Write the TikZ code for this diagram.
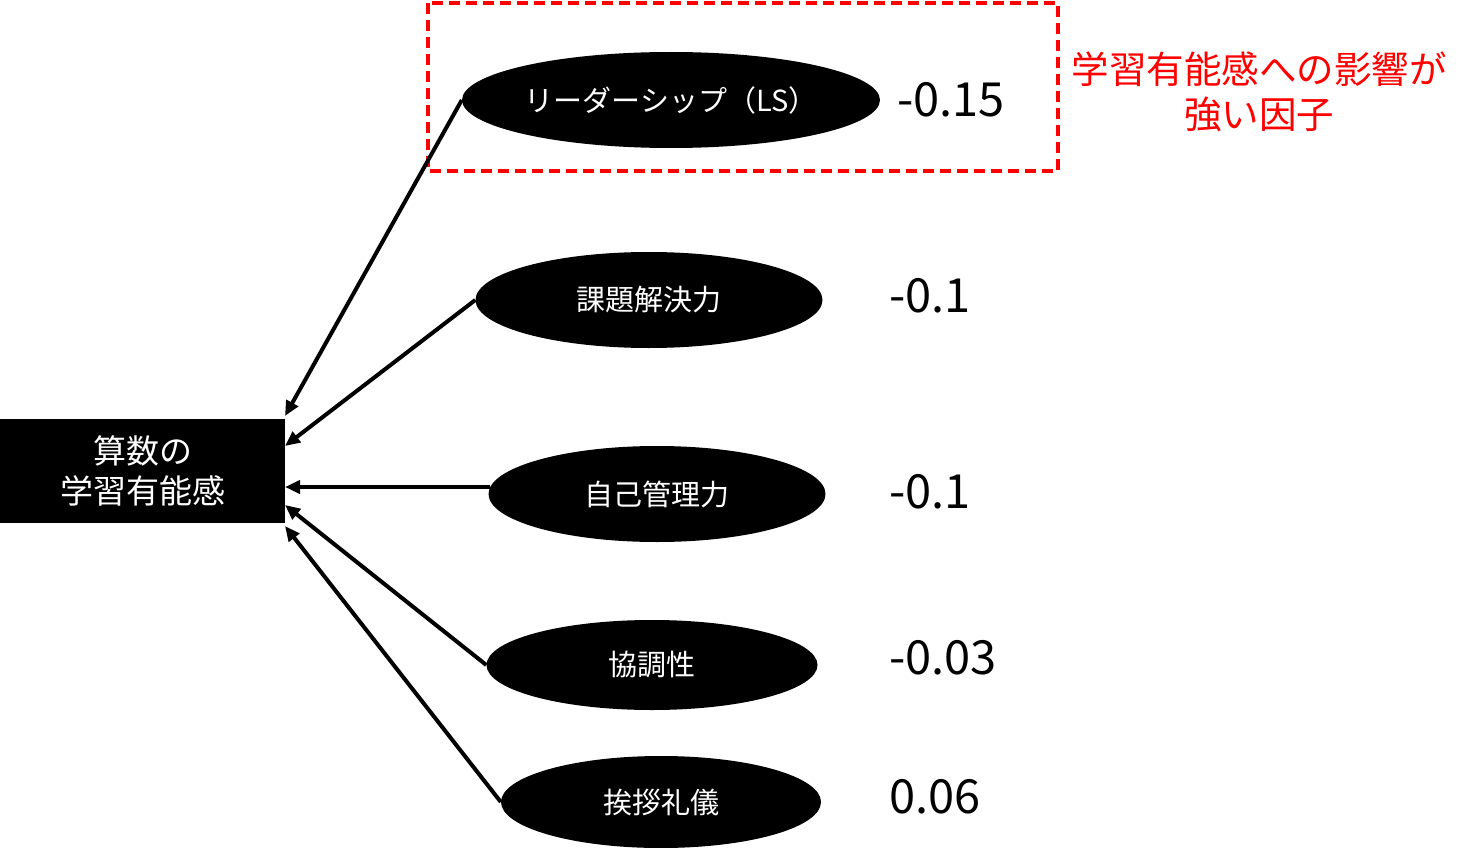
\documentclass[tikz,border=0pt]{standalone}
\usepackage{fontspec}
\setmainfont{Noto Sans CJK JP}
\usetikzlibrary{shapes.geometric,arrows.meta}
\begin{document}
\begin{tikzpicture}[x=1pt,y=-1pt,
  factor/.style={ellipse,fill=black,draw=none,inner sep=0pt,text=white,
    font=\fontsize{29}{32}\selectfont},
  coef/.style={anchor=west,inner sep=0pt,font=\fontsize{47}{50}\selectfont},
  link/.style={line width=4pt,-{Triangle[length=15pt,width=13pt]}}
]
\useasboundingbox (0,0) rectangle (1480,848);
% target box
\node[fill=black,minimum width=285pt,minimum height=104pt,inner sep=0pt,anchor=north west,
  text=white,align=center,font=\fontsize{33}{40}\selectfont] (box) at (0,419) {算数の\\学習有能感};
% factors
\node[factor,minimum width=418pt,minimum height=96pt] (ls) at (671,100) {リーダーシップ（LS）};
\node[factor,minimum width=347pt,minimum height=96pt] (kd) at (649,300) {課題解決力};
\node[factor,minimum width=337pt,minimum height=96pt] (jk) at (657,494) {自己管理力};
\node[factor,minimum width=331pt,minimum height=90pt] (kc) at (652,665) {協調性};
\node[factor,minimum width=320pt,minimum height=92pt] (ai) at (661,802) {挨拶礼儀};
% coefficients
\node[coef] (c1) at (897,100) {-0.15};
\node[coef] (c2) at (889,296) {-0.1};
\node[coef] (c3) at (889,492) {-0.1};
\node[coef] (c4) at (889,658) {-0.03};
\node[coef] (c5) at (889,797) {0.06};
% highlight
\draw[red,line width=3.5pt,dash pattern=on 11pt off 6pt] (428,3) rectangle (1058,171);
\node[red,align=center,inner sep=0pt,font=\fontsize{37.5}{45}\selectfont] (note) at (1259,92)
  {学習有能感への影響が\\強い因子};
% targets on box
\coordinate (t1) at (285,416);
\coordinate (t2) at (285,446);
\coordinate (t3) at (285,487);
\coordinate (t4) at (285,505);
\coordinate (t5) at (285,526);
\coordinate (s3) at (490,487);
\draw[link] (ls.west) -- (t1);
\draw[link] (kd.west) -- (t2);
\draw[link] (s3) -- (t3);
\draw[link] (kc.west) -- (t4);
\draw[link] (ai.west) -- (t5);
\end{tikzpicture}
\end{document}
